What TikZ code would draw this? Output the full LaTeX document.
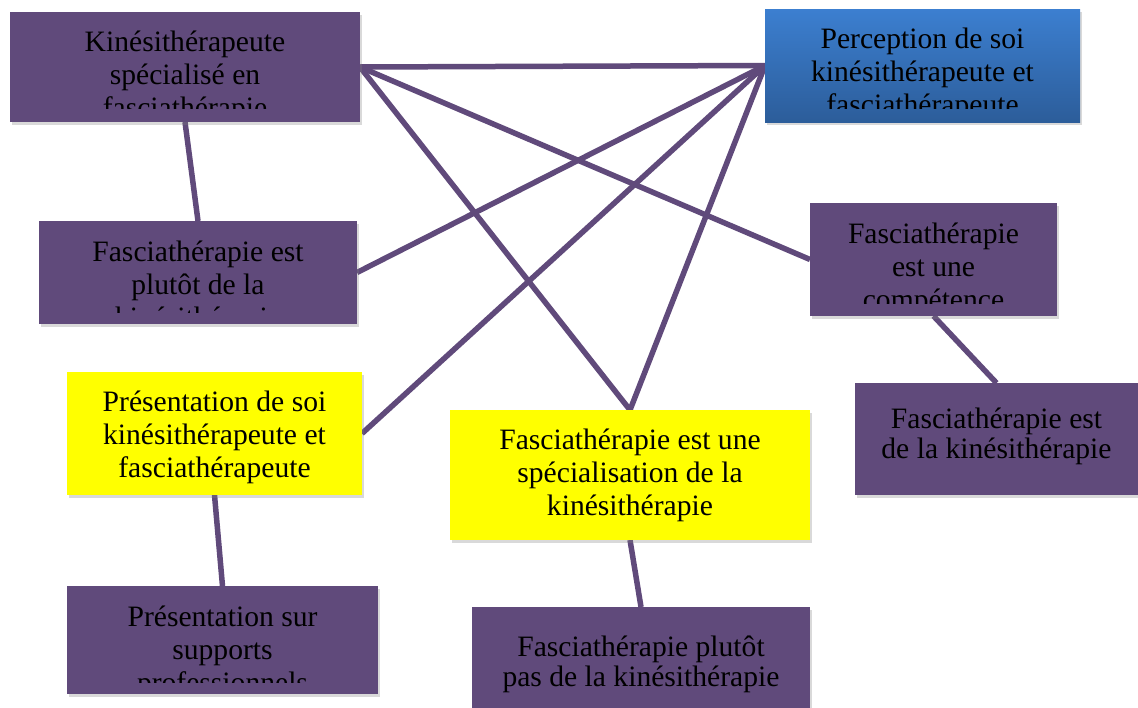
\documentclass[tikz,border=0pt]{standalone}
\usepackage{fontspec}
\setmainfont{Liberation Serif}
\usetikzlibrary{shadows,backgrounds}
\definecolor{purp}{RGB}{96,74,123}
\definecolor{blueT}{RGB}{60,127,208}
\definecolor{blueB}{RGB}{44,93,154}
\definecolor{yel}{RGB}{255,255,0}
\begin{document}
\begin{tikzpicture}[x=1pt,y=-1pt,
  box/.style={rectangle, inner sep=0pt, outer sep=0pt,
    drop shadow={shadow xshift=2pt, shadow yshift=-3pt, opacity=0.3}},
  pbox/.style={box, fill=purp},
  ybox/.style={box, fill=yel},
  bbox/.style={box, top color=blueT, bottom color=blueB},
  txt/.style={anchor=north, align=center, inner sep=0pt, text=black,
    font=\fontsize{29.6}{33}\selectfont},
  link/.style={line width=5.5pt, draw=purp}]
\useasboundingbox (0,0) rectangle (1138,707);
\clip (0,0) rectangle (1138,707);

% boxes
\node[pbox, minimum width=350pt, minimum height=110pt] (kine) at (185,67) {};
\node[bbox, minimum width=315pt, minimum height=113pt] (perc) at (922.5,65.5) {};
\node[pbox, minimum width=318pt, minimum height=103pt] (plut) at (198,272.5) {};
\node[pbox, minimum width=247pt, minimum height=113pt] (comp) at (933.5,259.5) {};
\node[ybox, minimum width=295pt, minimum height=123pt] (pres) at (214.5,433.5) {};
\node[ybox, minimum width=360pt, minimum height=130pt] (spec) at (630,475) {};
\node[pbox, minimum width=283pt, minimum height=112pt] (estk) at (996.5,439) {};
\node[pbox, minimum width=311pt, minimum height=108pt] (supp) at (222.5,640) {};
\node[pbox, minimum width=338pt, minimum height=114pt] (pas) at (641,664) {};

% texts (clipped where the original overflows)
\begin{scope}
  \clip (10,12) rectangle (360,108);
  \node[txt] (t1) at (185,28.4) {\strut Kinésithérapeute\\spécialisé en\\fasciathérapie};
\end{scope}
\begin{scope}
  \clip (765,9) rectangle (1080,108);
  \node[txt] (t2) at (922.5,25.4) {\strut Perception de soi\\kinésithérapeute et\\fasciathérapeute};
\end{scope}
\begin{scope}
  \clip (39,221) rectangle (357,312);
  \node[txt] (t3) at (198,238.4) {\strut Fasciathérapie est\\plutôt de la\\kinésithérapie};
\end{scope}
\begin{scope}
  \clip (810,203) rectangle (1057,303);
  \node[txt] (t4) at (933.5,220.4) {\strut Fasciathérapie\\est une\\compétence};
\end{scope}
\node[txt] (t5) at (214.5,388.4) {\strut Présentation de soi\\kinésithérapeute et\\fasciathérapeute};
\node[txt] (t6) at (630,426.4) {\strut Fasciathérapie est une\\spécialisation de la\\kinésithérapie};
\node[txt, font=\fontsize{29.6}{30}\selectfont] (t7) at (996.5,407) {\strut Fasciathérapie est\\de la kinésithérapie};
\begin{scope}
  \clip (67,586) rectangle (378,682);
  \node[txt] (t8) at (222.5,603.4) {\strut Présentation sur\\supports\\professionnels};
\end{scope}
\node[txt, font=\fontsize{29.6}{28}\selectfont] (t9) at (641,636) {\strut Fasciathérapie plutôt\\pas de la kinésithérapie};

% connectors
\begin{scope}[on background layer]
  \draw[link] (kine.east) -- (perc.west);
  \draw[link] (kine.east) -- (spec.north);
  \draw[link] (kine.east) -- (comp.west);
  \draw[link] (perc.west) -- (plut.east);
  \draw[link] (perc.west) -- (pres.east);
  \draw[link] (perc.west) -- (spec.north);
  \draw[link] (kine.south) -- (plut.north);
  \draw[link] (comp.south) -- (estk.north);
  \draw[link] (pres.south) -- (supp.north);
  \draw[link] (spec.south) -- (pas.north);
\end{scope}
\end{tikzpicture}
\end{document}
